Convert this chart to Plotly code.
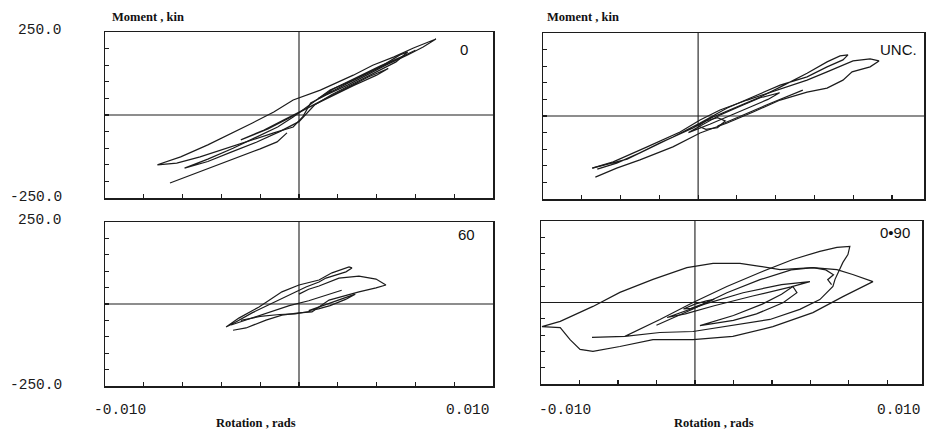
import plotly.graph_objects as go

# ---------------- data (rotation in milli-rad, moment in kin) ----------------
panel_labels = ["0", "UNC.", "60", "0\u202290"]
y_tick_labels = ["250.0", "-250.0"]
x_tick_labels = ["-0.010", "0.010"]
y_title = "Moment , kin"
x_title = "Rotation , rads"

# panel "0" (top left)
tl_a_rot = [-7.3, -6.1, -4.7, -3.4, -2.4, -1.3, -0.3, 1.1, 2.8, 3.8, 4.9, 5.9, 7.06, 6.4, 5.6, 4.5, 3.5, 2.5, 1.4, 0.6, 0.2, -0.3, -1.3, -2.4, -3.7, -5.1, -6.3, -7.3]
tl_a_mom = [-150, -126, -90, -54, -24, 9, 45, 75, 120, 150, 175, 202, 229, 205, 181, 151, 120, 90, 60, 36, -5, -36, -54, -75, -100, -126, -145, -150]
tl_b_rot = [-6.65, -5.1, -3.4, -2.0, -1.13, -0.62]
tl_b_mom = [-205, -171, -133, -102, -81, -54]
tl_c_rot = [-5.9, -4.7, -3.4, -2.2, -1.1, -0.3, 0.7, 1.6, 2.8, 4.2, 5.2, 5.6, 5.0, 4.0, 2.8, 1.7, 0.8, 0.0, -1.0, -2.2, -3.5, -4.7, -5.9]
tl_c_mom = [-160, -133, -100, -66, -36, -6, 36, 75, 105, 145, 181, 190, 160, 130, 96, 62, 30, -20, -50, -82, -112, -140, -160]
tl_d_rot = [-3.0, -1.8, -0.8, 0.2, 1.2, 2.4, 3.6, 4.6, 4.0, 2.8, 1.6, 0.4, -0.6, -1.6, -3.0]
tl_d_mom = [-75, -45, -15, 15, 45, 80, 115, 140, 120, 88, 55, 20, -12, -42, -75]
tl_e_rot = [1.0, 2.5, 4.0, 5.2, 6.0, 5.4, 4.2, 3.0, 1.8, 1.0]
tl_e_mom = [50, 95, 140, 172, 195, 178, 148, 115, 80, 50]

# panel "UNC." (top right)
tr_a_rot = [-7.46, -6.38, -4.63, -2.93, -1.9, -0.87, 0.53, 2.07, 3.62, 4.65, 5.47, 5.99, 6.87, 7.33, 6.87, 6.35, 5.94, 5.47, 4.65, 3.62, 2.23, 0.84, -0.5, -1.9, -3.3, -5.0, -6.2, -7.3]
tr_a_mom = [-157, -138, -93, -48, -12, 18, 48, 78, 108, 133, 154, 166, 172, 166, 148, 139, 133, 108, 84, 72, 48, 12, -21, -51, -93, -132, -157, -184]
tr_b_rot = [-7.46, -5.66, -3.96, -2.26, -1.23, 0.0, 1.2, 2.23, 3.62, 4.65, 5.32, 5.73, 5.47, 4.65, 3.62, 2.23, 0.84, -0.5, -1.9, -3.3, -5.0, -6.2, -7.2]
tr_b_mom = [-157, -130, -81, -36, -3, 27, 57, 87, 129, 163, 181, 184, 169, 148, 118, 93, 57, 24, -21, -63, -111, -142, -160]
tr_c_rot = [-2.5, -1.6, -0.8, 0.2, 1.2, 2.2, 1.6, 0.6, -0.4, -1.4, -2.5]
tr_c_mom = [-50, -20, 5, 30, 55, 70, 50, 25, 0, -25, -50]
tr_d_rot = [-2.0, -1.6, -1.0, -0.6, -1.0, -1.6, -2.0]
tr_d_mom = [-30, -15, -5, -15, -35, -40, -30]
tr_e_rot = [-1.0, 0.3, 1.8, 3.4]
tr_e_mom = [-30, 3, 40, 78]

# panel "60" (bottom left)
bl_a_rot = [-3.76, -3.1, -2.06, -0.88, 0.0, 1.03, 1.7, 2.58, 2.73, 2.42, 1.39, 1.03, 0.36, -0.52, -1.39, -2.42, -3.44, -3.76]
bl_a_mom = [-70, -43, -9, 37, 58, 73, 95, 113, 110, 98, 79, 67, 52, 27, 3, -27, -61, -70]
bl_b_rot = [0.0, 0.5, 1.03, 2.06, 3.09, 3.97, 4.48, 3.97, 3.09, 2.42, 1.55, 1.03, 0.67, 0.0, -0.88, -1.7, -2.73, -3.4]
bl_b_mom = [30, 45, 55, 79, 85, 76, 58, 49, 37, 27, 12, -9, -24, -27, -34, -49, -73, -80]
bl_c_rot = [-3.5, -2.5, -1.5, -0.5, 0.5, 1.5, 2.2]
bl_c_mom = [-64, -45, -25, -5, 10, 28, 42]
bl_d_rot = [0.5, 1.0, 1.6, 2.4, 2.9, 2.4, 1.6, 1.0, 0.5]
bl_d_mom = [-20, -10, 2, 20, 30, 14, -5, -15, -20]
bl_e_rot = [-3.0, -2.0, -1.0, -0.2, 0.6]
bl_e_mom = [-50, -38, -32, -30, -22]

# panel "0.90" (bottom right)
br_a_rot = [-9.95, -9.0, -7.3, -5.9, -4.18, -2.42, -1.06, 0.34, 1.38, 2.42, 4.13, 5.38, 6.2, 7.25, 5.69, 4.13, 2.05, -0.03, -2.1, -4.18, -5.9, -7.3, -7.97, -8.49, -9.0, -9.95]
br_a_mom = [-74, -58, -12, 31, 71, 107, 120, 120, 111, 101, 107, 101, 86, 64, 18, -31, -74, -104, -114, -114, -135, -150, -144, -114, -77, -74]
br_b_rot = [-7.35, -5.64, -3.82, -2.1, -0.34, 1.38, 3.09, 4.49, 5.38, 6.05, 5.95, 5.69, 5.28, 5.17, 4.49, 3.45, 1.9, -0.34, -2.1, -3.82, -5.64]
br_b_mom = [-107, -104, -52, 0, 49, 92, 132, 157, 169, 172, 147, 123, 71, 49, 9, -21, -52, -74, -89, -92, -104]
br_c_rot = [-4.0, -2.1, -0.34, 1.38, 3.0, 4.13, 4.8, 5.2, 4.9, 5.1]
br_c_mom = [-70, -20, 30, 70, 100, 107, 100, 85, 70, 55]
br_d_rot = [-3.45, -1.5, 0.5, 2.5, 3.97, 3.0, 1.0, -1.0, -2.5, -3.45]
br_d_mom = [-46, -5, 30, 55, 64, 48, 20, -10, -35, -46]
br_e_rot = [-1.74, 0.0, 1.5, 2.5, 3.09, 3.3, 2.6, 1.2, 0.0, -1.74]
br_e_mom = [-71, -40, -5, 25, 49, 30, 0, -35, -55, -71]
br_f_rot = [-2.6, -2.0, -1.4, -1.0, -1.6, -2.2, -2.6]
br_f_mom = [-20, -5, 5, 10, -5, -18, -20]

# origin (cross-hair) position of each panel on its rotation axis, milli-rad
origin_rot = [0.0, -2.0, 0.0, -2.0]

# ---------------- figure ----------------
W, H = 930, 430
LINE = "#1c1c1c"

def px(x):
    return x / W

def py(y):
    return 1 - y / H

# panel frames in page-pixel coordinates (left, right, top, bottom)
frames = [(105, 493, 32, 198), (543, 924, 33, 199), (105, 493, 222, 386), (541, 922, 221, 384)]
x_ranges = [[-0.010, 0.010], [-0.010, 0.00965], [-0.010, 0.010], [-0.010, 0.0098]]
# panel label anchor (right edge x, centre y) in page pixels
label_pos = [(470, 49), (919, 50), (477, 234), (912, 232)]

panels = [
    [(tl_a_rot, tl_a_mom), (tl_b_rot, tl_b_mom), (tl_c_rot, tl_c_mom), (tl_d_rot, tl_d_mom), (tl_e_rot, tl_e_mom)],
    [(tr_a_rot, tr_a_mom), (tr_b_rot, tr_b_mom), (tr_c_rot, tr_c_mom), (tr_d_rot, tr_d_mom), (tr_e_rot, tr_e_mom)],
    [(bl_a_rot, bl_a_mom), (bl_b_rot, bl_b_mom), (bl_c_rot, bl_c_mom), (bl_d_rot, bl_d_mom), (bl_e_rot, bl_e_mom)],
    [(br_a_rot, br_a_mom), (br_b_rot, br_b_mom), (br_c_rot, br_c_mom), (br_d_rot, br_d_mom), (br_e_rot, br_e_mom), (br_f_rot, br_f_mom)],
]

fig = go.Figure()
layout = dict(width=W, height=H, margin=dict(l=0, r=0, t=0, b=0),
              paper_bgcolor="white", plot_bgcolor="white", showlegend=False)

shapes = []
annotations = []
for i, (l, r, t, b) in enumerate(frames):
    n = "" if i == 0 else str(i + 1)
    xa, ya = "xaxis" + n, "yaxis" + n
    xr, yr = "x" + n, "y" + n
    layout[xa] = dict(domain=[px(l), px(r)], anchor=yr, range=x_ranges[i],
                      showgrid=False, zeroline=False, showline=True, mirror=True,
                      linecolor=LINE, linewidth=1.5, ticks="inside", ticklen=4,
                      tickwidth=1.2, tickcolor=LINE, tick0=-0.010, dtick=0.002,
                      showticklabels=False, fixedrange=True)
    layout[ya] = dict(domain=[py(b), py(t)], anchor=xr, range=[-250, 250],
                      showgrid=False, zeroline=False, showline=True, mirror=True,
                      linecolor=LINE, linewidth=1.5, ticks="inside", ticklen=4,
                      tickwidth=1.2, tickcolor=LINE, tick0=-250, dtick=50,
                      showticklabels=False, fixedrange=True)
    ox = origin_rot[i] / 1000.0
    shapes.append(dict(type="line", xref=xr, yref=yr, x0=ox, x1=ox, y0=-250, y1=250,
                       line=dict(color=LINE, width=1.1)))
    shapes.append(dict(type="line", xref=xr, yref=yr, x0=x_ranges[i][0], x1=x_ranges[i][1], y0=0, y1=0,
                       line=dict(color=LINE, width=1.1)))
    for rot, mom in panels[i]:
        fig.add_trace(go.Scatter(x=[v / 1000.0 for v in rot], y=mom, mode="lines",
                                 line=dict(color=LINE, width=1.2), xaxis=xr, yaxis=yr,
                                 hoverinfo="skip"))
    lx, ly = label_pos[i]
    annotations.append(dict(text=panel_labels[i], xref="paper", yref="paper",
                            x=px(lx), y=py(ly), xanchor="right", yanchor="middle",
                            showarrow=False,
                            font=dict(family="Liberation Sans Narrow, Liberation Sans", size=15, color="#111")))

mono = dict(family="Liberation Mono, DejaVu Sans Mono", size=14.5, color="#1a1a1a")
serif = dict(family="Liberation Serif, DejaVu Serif", size=12.5, color="#111")

# y-axis end labels (left panels)
for (l, r, t, b) in (frames[0], frames[2]):
    annotations.append(dict(text=y_tick_labels[0], xref="paper", yref="paper", x=px(64), y=py(t - 2),
                            xanchor="right", yanchor="middle", showarrow=False, font=mono))
    annotations.append(dict(text=y_tick_labels[1], xref="paper", yref="paper", x=px(64), y=py(b - 1),
                            xanchor="right", yanchor="middle", showarrow=False, font=mono))

# x-axis end labels (bottom panels)
for cx_left, cx_right in ((120, 468), (565, 899)):
    annotations.append(dict(text=x_tick_labels[0], xref="paper", yref="paper", x=px(cx_left), y=py(410),
                            xanchor="center", yanchor="middle", showarrow=False, font=mono))
    annotations.append(dict(text=x_tick_labels[1], xref="paper", yref="paper", x=px(cx_right), y=py(410),
                            xanchor="center", yanchor="middle", showarrow=False, font=mono))

# axis titles
for xl in (110, 545):
    annotations.append(dict(text="<b>" + y_title + "</b>", xref="paper", yref="paper", x=px(xl), y=py(17),
                            xanchor="left", yanchor="middle", showarrow=False, font=serif))
for xc in (256, 714):
    annotations.append(dict(text="<b>" + x_title + "</b>", xref="paper", yref="paper", x=px(xc), y=py(423),
                            xanchor="center", yanchor="middle", showarrow=False, font=serif))

layout["shapes"] = shapes
layout["annotations"] = annotations
fig.update_layout(**layout)
fig.write_html("out.html", config={"displayModeBar": False, "staticPlot": True},
               post_script="document.body.style.margin='0px';document.body.style.overflow='hidden';")
